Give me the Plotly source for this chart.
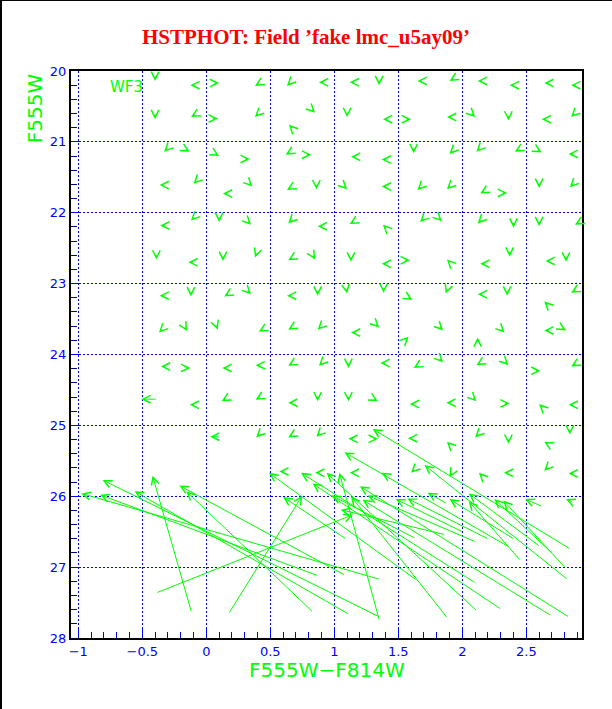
import math
import plotly.graph_objects as go

GREEN = "#00ff00"
BLUE = "#0000ff"

# ---- short displacement arrows: tip position and tip direction (deg, screen: 0=right, 90=up)
small_x = [
    -0.40, -0.125, 0.10, 0.38, 0.63, 0.88, 1.12, 1.35, 1.65, 1.90, 2.12, 2.37, 2.64, 2.85,
    -0.40, -0.12, 0.09, 0.38, 0.645, 0.85, 1.10, 1.38, 1.60, 1.88, 2.10, 2.36, 2.62, 2.85,
    -0.33, -0.13, 0.10, 0.34, 0.62, 0.82, 1.13, 1.37, 1.62, 1.90, 2.11, 2.41, 2.62, 2.83,
    -0.365, -0.10, 0.13, 0.36, 0.63, 0.86, 1.10, 1.37, 1.65, 1.88, 2.14, 2.35, 2.60, 2.84,
    -0.36, -0.12, 0.10, 0.35, 0.64, 0.87, 1.12, 1.38, 1.67, 1.84, 2.12, 2.40, 2.60, 2.88,
    -0.39, -0.14, 0.13, 0.38, 0.64, 0.85, 1.13, 1.37, 1.59, 1.88, 2.14, 2.37, 2.65, 2.81,
    -0.365, -0.12, 0.14, 0.35, 0.63, 0.87, 1.10, 1.385, 1.61, 1.87, 2.12, 2.35, 2.64, 2.85,
    -0.37, -0.15, 0.09, 0.41, 0.64, 0.87, 1.13, 1.35, 1.58, 1.85, 2.12, 2.33, 2.64, 2.81,
    -0.355, -0.125, 0.125, 0.385, 0.64, 0.88, 1.11, 1.36, 1.62, 1.85, 2.11, 2.36, 2.61, 2.85,
    -0.13, 0.12, 0.385, 0.64, 0.87, 1.11, 1.34, 1.59, 1.875, 2.11, 2.37, 2.60, 2.83,
    0.39, 0.64, 0.86, 1.11, 1.34, 1.575, 1.88, 2.10, 2.36, 2.64, 2.84,
    0.57, 0.85, 1.12, 1.37, 1.60, 1.90, 2.13, 2.325, 2.64, 2.83,
]
small_y = [
    20.14, 20.20, 20.17, 20.21, 20.21, 20.16, 20.16, 20.20, 20.14, 20.14, 20.14, 20.20, 20.17, 20.20,
    20.68, 20.65, 20.67, 20.65, 20.76, 20.59, 20.65, 20.68, 20.68, 20.65, 20.65, 20.70, 20.68, 20.65,
    21.14, 21.14, 21.20, 21.24, 21.18, 21.18, 21.21, 21.25, 21.16, 21.17, 21.14, 21.14, 21.15, 21.17,
    21.61, 21.59, 21.73, 21.63, 21.68, 21.67, 21.67, 21.63, 21.68, 21.67, 21.73, 21.72, 21.65, 21.64,
    22.18, 22.11, 22.13, 22.17, 22.15, 22.19, 22.16, 22.17, 22.13, 22.12, 22.15, 22.21, 22.19, 22.17,
    22.66, 22.70, 22.68, 22.63, 22.67, 22.66, 22.69, 22.72, 22.67, 22.66, 22.72, 22.62, 22.68, 22.69,
    23.17, 23.18, 23.18, 23.15, 23.17, 23.17, 23.14, 23.13, 23.23, 23.14, 23.15, 23.17, 23.25, 23.13,
    23.69, 23.67, 23.65, 23.68, 23.65, 23.65, 23.69, 23.62, 23.75, 23.66, 23.76, 23.69, 23.66, 23.66,
    24.17, 24.19, 24.19, 24.15, 24.16, 24.16, 24.19, 24.12, 24.19, 24.11, 24.15, 24.15, 24.23, 24.17,
    24.71, 24.66, 24.64, 24.68, 24.66, 24.66, 24.66, 24.70, 24.68, 24.66, 24.69, 24.70, 24.71,
    25.17, 25.17, 25.16, 25.19, 25.19, 25.18, 25.23, 25.17, 25.26, 25.23, 25.13,
    25.65, 25.67, 25.67, 25.67, 25.67, 25.73, 25.67, 25.67, 25.64, 25.68,
]
small_dir = [
    270, 180, 0, 210, 225, 180, 180, 270, 180, 210, 180, 180, 180, 180,
    270, 210, 0, 225, 135, 315, 270, 180, 0, 180, 315, 270, 180, 225,
    225, 330, 330, 0, 210, 0, 180, 180, 270, 225, 225, 210, 330, 180,
    180, 225, 180, 315, 210, 270, 315, 180, 225, 225, 210, 0, 270, 225,
    180, 225, 270, 315, 225, 180, 210, 135, 225, 315, 225, 270, 270, 210,
    270, 180, 270, 250, 210, 300, 270, 180, 0, 135, 180, 270, 180, 270,
    180, 270, 210, 315, 180, 270, 280, 270, 330, 250, 180, 270, 135, 210,
    225, 300, 290, 210, 210, 225, 180, 315, 45, 315, 90, 315, 180, 330,
    180, 0, 180, 180, 210, 225, 270, 180, 210, 315, 210, 315, 0, 210,
    180, 210, 210, 180, 270, 270, 330, 180, 180, 315, 0, 135, 180,
    225, 210, 225, 180, 0, 180, 135, 225, 270, 150, 270,
    180, 180, 180, 150, 225, 240, 135, 180, 225, 180,
]

# ---- long displacement arrows: head (input) and tail (recovered)
head_x = [-0.508, 0.03, 1.73, 2.49, 2.81,
          -0.977, -0.83, -0.81, -0.56, -0.42, -0.21, -0.156,
          1.145, 0.75, 0.60, 1.04,
          0.49, 0.74, 0.94, 1.08, 1.30, 0.83, 0.98, 1.05, 1.13, 1.20, 1.22, 1.26,
          1.48, 1.57, 1.705, 1.90, 2.05, 2.05, 2.25, 2.32]
head_y = [24.63, 25.16, 25.95, 26.04, 26.04,
          25.96, 25.98, 25.77, 25.93, 25.71, 25.85, 25.93,
          26.26, 25.99, 26.01, 25.67,
          25.67, 25.67, 25.67, 25.38, 25.05, 25.82, 25.99, 26.19, 26.00, 25.86, 26.05, 25.99,
          26.04, 26.03, 25.56, 26.04, 25.96, 26.07, 26.04, 26.06]
tail_x = [-0.39, 0.10, 1.875, 2.62, 2.86,
          1.35, 0.87, 1.35, 1.11, -0.117, 1.08, 0.83,
          -0.386, 0.177, 1.09, 1.35,
          1.64, 2.10, 2.11, 2.36, 2.84, 2.30, 1.63, 1.86, 1.88, 2.83, 2.69, 2.10,
          2.00, 2.20, 2.82, 2.40, 2.60, 2.45, 2.70, 2.80]
tail_y = [24.63, 25.16, 26.10, 26.14, 26.08,
          27.17, 27.12, 27.70, 27.66, 27.63, 27.11, 27.63,
          27.36, 27.65, 26.60, 27.74,
          27.18, 27.22, 27.61, 26.71, 26.74, 27.59, 26.59, 26.54, 27.71, 27.70, 27.68, 26.64,
          26.50, 26.60, 27.17, 26.60, 26.70, 26.90, 26.80, 27.00]

x_range = [-1.057, 2.935]
y_range = [28, 20]

fig = go.Figure()
fig.add_trace(go.Scatter(x=head_x, y=head_y, mode="markers",
                         marker=dict(size=1, opacity=0), hoverinfo="skip",
                         showlegend=False))

ann = []
arrow_style = dict(showarrow=True, arrowhead=5, arrowsize=1.5, arrowwidth=1,
                   arrowcolor=GREEN, text="", standoff=0, borderpad=0,
                   font=dict(size=1))
L = 5.0
for x, y, d in zip(small_x, small_y, small_dir):
    th = math.radians(d)
    ann.append(dict(x=x, y=y, xref="x", yref="y",
                    ax=-L * math.cos(th), ay=L * math.sin(th), **arrow_style))
for hx, hy, tx, ty in zip(head_x, head_y, tail_x, tail_y):
    ann.append(dict(x=hx, y=hy, xref="x", yref="y", ax=tx, ay=ty,
                    axref="x", ayref="y", **arrow_style))

ann.append(dict(x=-0.62, y=20.23, xref="x", yref="y", text="WF3", showarrow=False,
                font=dict(family="DejaVu Sans", size=15, color=GREEN)))
ann.append(dict(x=0.5, y=-0.056, xref="paper", yref="paper", text="F555W\u2212F814W",
                showarrow=False, yanchor="middle", xanchor="center",
                font=dict(family="DejaVu Sans", size=20, color=GREEN)))
ann.append(dict(x=-0.07, y=1.0, xref="paper", yref="paper", text="F555W",
                textangle=-90, showarrow=False, yanchor="top", xanchor="center",
                font=dict(family="DejaVu Sans", size=20, color=GREEN)))

axis_common = dict(
    showline=True, linecolor="black", linewidth=2, mirror=True,
    ticks="inside", ticklen=10, tickwidth=1, tickcolor=BLUE,
    showgrid=True, gridcolor=BLUE, gridwidth=1, griddash="2px,2px",
    zeroline=False, tickfont=dict(family="DejaVu Sans", size=13, color=BLUE),
)

fig.update_layout(
    width=612, height=709,
    margin=dict(l=71, r=30, t=71, b=71),
    paper_bgcolor="white", plot_bgcolor="white",
    showlegend=False,
    title=dict(text="HSTPHOT: Field \u2019fake lmc_u5ay09\u2019",
               x=0.5, xanchor="center", y=1 - 36.5 / 709, yanchor="middle",
               yref="container",
               font=dict(family="Liberation Serif", size=21, color="#ff0000",
                         weight="bold")),
    xaxis=dict(range=x_range, tick0=0, dtick=0.5,
               minor=dict(dtick=0.1, ticks="inside", ticklen=6, tickcolor=BLUE,
                          showgrid=False),
               **axis_common),
    yaxis=dict(range=y_range, tick0=20, dtick=1, ticklabelstandoff=0,
               minor=dict(dtick=0.2, ticks="inside", ticklen=6, tickcolor="#000080",
                          showgrid=False),
               **axis_common),
    annotations=ann,
    shapes=[
        dict(type="line", xref="paper", yref="paper", x0=-0.13699, x1=-0.13699,
             y0=-0.13, y1=1.13, line=dict(color="black", width=2)),
        dict(type="line", xref="paper", yref="paper", x0=-0.14, x1=1.06,
             y0=1.12434, y1=1.12434, line=dict(color="black", width=1)),
    ],
)

fig.write_html("out.html", config={"displayModeBar": False},
               post_script="document.body.style.margin='0';")
